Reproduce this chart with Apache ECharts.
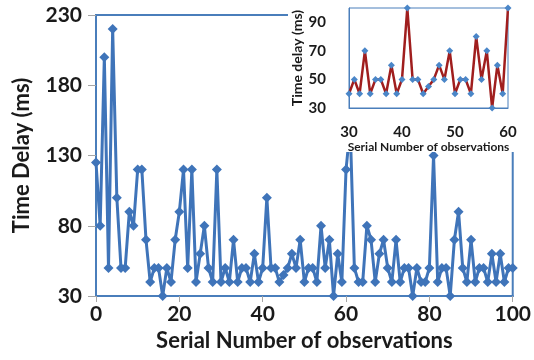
<!DOCTYPE html>
<html>
<head>
<meta charset="utf-8">
<script src="https://cdn.jsdelivr.net/npm/echarts@6/dist/echarts.min.js"></script>
<style>
  html, body { margin: 0; padding: 0; background: #fff; }
  #delay-chart { width: 534px; height: 360px; }
</style>
</head>
<body>
<div id="delay-chart"></div>
<script>
// time delay (ms) for serial numbers 0..100
const delayMs = [
  125, 80, 200, 50, 220, 100, 50, 50, 90, 80,
  120, 120, 70, 40, 50, 50, 30, 50, 40, 70,
  90, 120, 50, 120, 40, 60, 80, 50, 40, 120,
  40, 50, 40, 70, 40, 50, 50, 40, 60, 40,
  50, 100, 50, 50, 40, 45, 50, 60, 50, 70,
  40, 50, 50, 40, 80, 50, 70, 30, 60, 40,
  120, 150, 50, 40, 40, 80, 70, 40, 60, 70,
  50, 40, 70, 40, 50, 50, 30, 50, 40, 40,
  50, 130, 40, 50, 50, 30, 70, 90, 50, 40,
  70, 40, 50, 50, 40, 60, 40, 60, 40, 50,
  50
]
// zoomed inset, serial numbers 30..60 as drawn in the small chart
const insetStart = 30
const insetDelayMs = [
  40, 50, 40, 70, 40, 50, 50, 40, 60, 40,
  50, 100, 50, 50, 40, 45, 50, 60, 50, 70,
  40, 50, 50, 40, 80, 50, 70, 30, 60, 40,
  100
]
const yTicks = [30, 80, 130, 180, 230]
const xTicks = [0, 20, 40, 60, 80, 100]
const insetYTicks = [30, 50, 70, 90]
const insetXTicks = [30, 40, 50, 60]

const blue = '#3f74b9'
const frameBlue = '#4a7ebb'
const red = '#a01e1e'
const font = 'Lato, "Open Sans", sans-serif'

const chart = echarts.init(document.getElementById('delay-chart'))

const mainData = delayMs.map((v, i) => [i, v])
const insetData = insetDelayMs.map((v, i) => [insetStart + i, v])

const option = {
  animation: false,
  backgroundColor: '#fff',
  textStyle: { fontFamily: font },
  grid: [
    {
      left: 96, right: 15, top: 15, bottom: 64,
      show: true, borderColor: frameBlue, borderWidth: 2
    },
    {
      left: 349, width: 159, top: 8, height: 100,
      show: true, borderColor: frameBlue, borderWidth: 1,
      backgroundColor: '#fff', z: 10
    }
  ],
  graphic: [
    {
      type: 'rect',
      shape: { x: 288, y: 0, width: 246, height: 152 },
      style: { fill: '#fff' },
      z: 5
    }
  ],
  xAxis: [
    {
      type: 'value', gridIndex: 0,
      min: xTicks[0], max: xTicks[xTicks.length - 1], interval: 20,
      name: 'Serial Number of observations',
      nameLocation: 'middle', nameGap: 31,
      nameTextStyle: { fontSize: 22, fontWeight: 'bold', color: '#1a1a1a', fontFamily: font },
      axisLine: { lineStyle: { color: frameBlue, width: 2 } },
      axisTick: { show: true, length: 6, lineStyle: { color: '#a6a6a6' } },
      axisLabel: { fontSize: 21, fontWeight: 'bold', color: '#1a1a1a', margin: 8, fontFamily: font },
      splitLine: { show: false }
    },
    {
      type: 'value', gridIndex: 1, z: 10,
      min: insetXTicks[0], max: insetXTicks[insetXTicks.length - 1], interval: 10,
      name: 'Serial Number of observations',
      nameLocation: 'middle', nameGap: 31,
      nameTextStyle: { fontSize: 12, fontWeight: 'bold', color: '#1a1a1a', fontFamily: font },
      axisLine: { lineStyle: { color: frameBlue, width: 1 } },
      axisTick: { show: false },
      axisLabel: { fontSize: 15, fontWeight: 'bold', color: '#1a1a1a', margin: 17, fontFamily: font },
      splitLine: { show: false }
    }
  ],
  yAxis: [
    {
      type: 'value', gridIndex: 0,
      min: yTicks[0], max: yTicks[yTicks.length - 1], interval: 50,
      name: 'Time Delay (ms)',
      nameLocation: 'middle', nameGap: 63,
      nameTextStyle: { fontSize: 22, fontWeight: 'bold', color: '#1a1a1a', fontFamily: font },
      axisLine: { show: true, lineStyle: { color: frameBlue, width: 2 } },
      axisTick: { show: true, length: 8, lineStyle: { color: '#a6a6a6' } },
      axisLabel: { fontSize: 21, fontWeight: 'bold', color: '#1a1a1a', margin: 14, fontFamily: font },
      splitLine: { show: false }
    },
    {
      type: 'value', gridIndex: 1, z: 10,
      min: 30, max: 100, interval: 10,
      name: 'Time delay (ms)',
      nameLocation: 'middle', nameGap: 37,
      nameTextStyle: { fontSize: 14, fontWeight: 'bold', color: '#1a1a1a', fontFamily: font },
      axisLine: { show: true, lineStyle: { color: frameBlue, width: 1 } },
      axisTick: { show: false },
      axisLabel: {
        fontSize: 15, fontWeight: 'bold', color: '#1a1a1a', margin: 23, fontFamily: font,
        formatter: function (v) {
          return insetYTicks.indexOf(v) >= 0 ? String(v) : ''
        }
      },
      splitLine: { show: false }
    }
  ],
  series: [
    {
      type: 'line',
      xAxisIndex: 0, yAxisIndex: 0,
      data: mainData,
      symbol: 'diamond', symbolSize: 10,
      lineStyle: { color: blue, width: 3 },
      itemStyle: { color: blue },
      z: 2
    },
    {
      type: 'line',
      xAxisIndex: 1, yAxisIndex: 1,
      data: insetData,
      symbol: 'diamond', symbolSize: 7,
      lineStyle: { color: red, width: 2.5 },
      itemStyle: { color: '#4a86c8' },
      clip: false,
      z: 12
    }
  ]
}

chart.setOption(option)
</script>
</body>
</html>
